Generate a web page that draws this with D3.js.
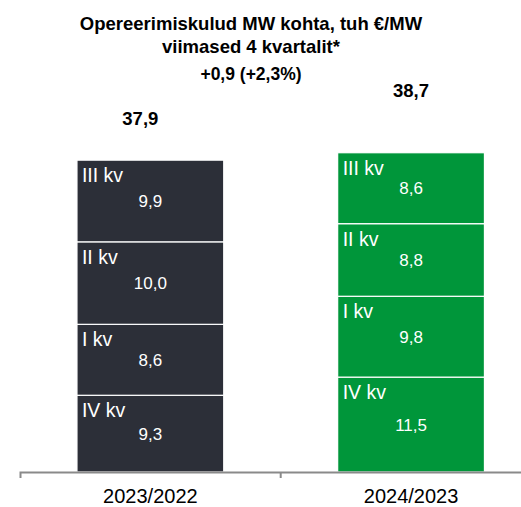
<!DOCTYPE html>
<html><head><meta charset="utf-8">
<script src="https://cdn.jsdelivr.net/npm/d3@7"></script>
<style>body{margin:0;background:#fff}svg{display:block;font-family:"Liberation Sans",Arial,sans-serif}</style>
</head><body><svg id="c" width="521" height="507"></svg>
<script>
const titleLines = ["Opereerimiskulud MW kohta, tuh €/MW", "viimased 4 kvartalit*"];
const categories = ["2023/2022", "2024/2023"];
const quarterLabels = ["IV kv", "I kv", "II kv", "III kv"];
const values2023 = [9.3, 8.6, 10.0, 9.9];
const values2024 = [11.5, 9.8, 8.8, 8.6];
const totals = [37.9, 38.7];
const changeLabel = "+0,9 (+2,3%)";
const colors = ["#2c2f38", "#00963a"];

const loc = d3.formatLocale({decimal: ",", thousands: " ", grouping: [3], currency: ["", "€"]});
const fmt = loc.format(".1f");

const svg = d3.select("#c");
const x = d3.scaleBand().domain(categories).range([20, 541.4]).paddingInner(0.437).paddingOuter(0.2185);
const y = d3.scaleLinear().domain([0, 40]).range([472, 142]);

const series = [values2023, values2024];
const stacks = series.map((vals, i) => {
  let acc = 0;
  return vals.map((v, j) => { const s = {cat: categories[i], ci: i, q: quarterLabels[j], v, y0: acc, y1: acc + v}; acc += v; return s; });
});

const g = svg.append("g");
stacks.forEach(st => {
  const gg = g.append("g");
  gg.selectAll("rect").data(st).join("rect")
    .attr("x", d => x(d.cat)).attr("width", x.bandwidth())
    .attr("y", d => y(d.y1)).attr("height", d => y(d.y0) - y(d.y1))
    .attr("fill", d => colors[d.ci]).attr("stroke", "#fff").attr("stroke-width", 1.2);
  gg.selectAll("text.q").data(st).join("text").attr("class", "q")
    .attr("x", d => x(d.cat) + 5).attr("y", d => y(d.y1) + 22)
    .attr("fill", "#fff").attr("font-size", 19.5).text(d => d.q);
  gg.selectAll("text.v").data(st).join("text").attr("class", "v")
    .attr("x", d => x(d.cat) + x.bandwidth() / 2).attr("y", d => (y(d.y0) + y(d.y1)) / 2 + 6)
    .attr("text-anchor", "middle").attr("fill", "#fff").attr("font-size", 17).text(d => fmt(d.v));
});

// axis
const axis = d3.axisBottom(x).tickSize(0).tickSizeOuter(6).tickPadding(17);
const ax = svg.append("g").attr("transform", "translate(0,472)").call(axis);
ax.select(".domain").attr("stroke", "#8a8a8a").attr("stroke-width", 2);
ax.selectAll(".tick text").attr("font-size", 20).attr("fill", "#000").attr("font-family", "Liberation Sans, Arial, sans-serif");
ax.append("line").attr("x1", x.range()[0] + x.step()).attr("x2", x.range()[0] + x.step())
  .attr("y1", 0).attr("y2", 6).attr("stroke", "#8a8a8a").attr("stroke-width", 2);

// totals
const totalOffsets = [[-10, -34], [0, -55.5]];
svg.selectAll("text.t").data(totals).join("text").attr("class", "t")
  .attr("x", (d, i) => x(categories[i]) + x.bandwidth() / 2 + totalOffsets[i][0])
  .attr("y", (d, i) => y(d) + totalOffsets[i][1])
  .attr("text-anchor", "middle").attr("font-weight", "bold").attr("font-size", 18.5).text(d => fmt(d));

svg.append("text").attr("x", 251).attr("y", 80).attr("text-anchor", "middle")
  .attr("font-weight", "bold").attr("font-size", 17.5).text(changeLabel);

svg.selectAll("text.title").data(titleLines).join("text").attr("class", "title")
  .attr("x", 251).attr("y", (d, i) => 29.5 + i * 23.5).attr("text-anchor", "middle")
  .attr("font-weight", "bold").attr("font-size", 18.5).text(d => d);
</script></body></html>
